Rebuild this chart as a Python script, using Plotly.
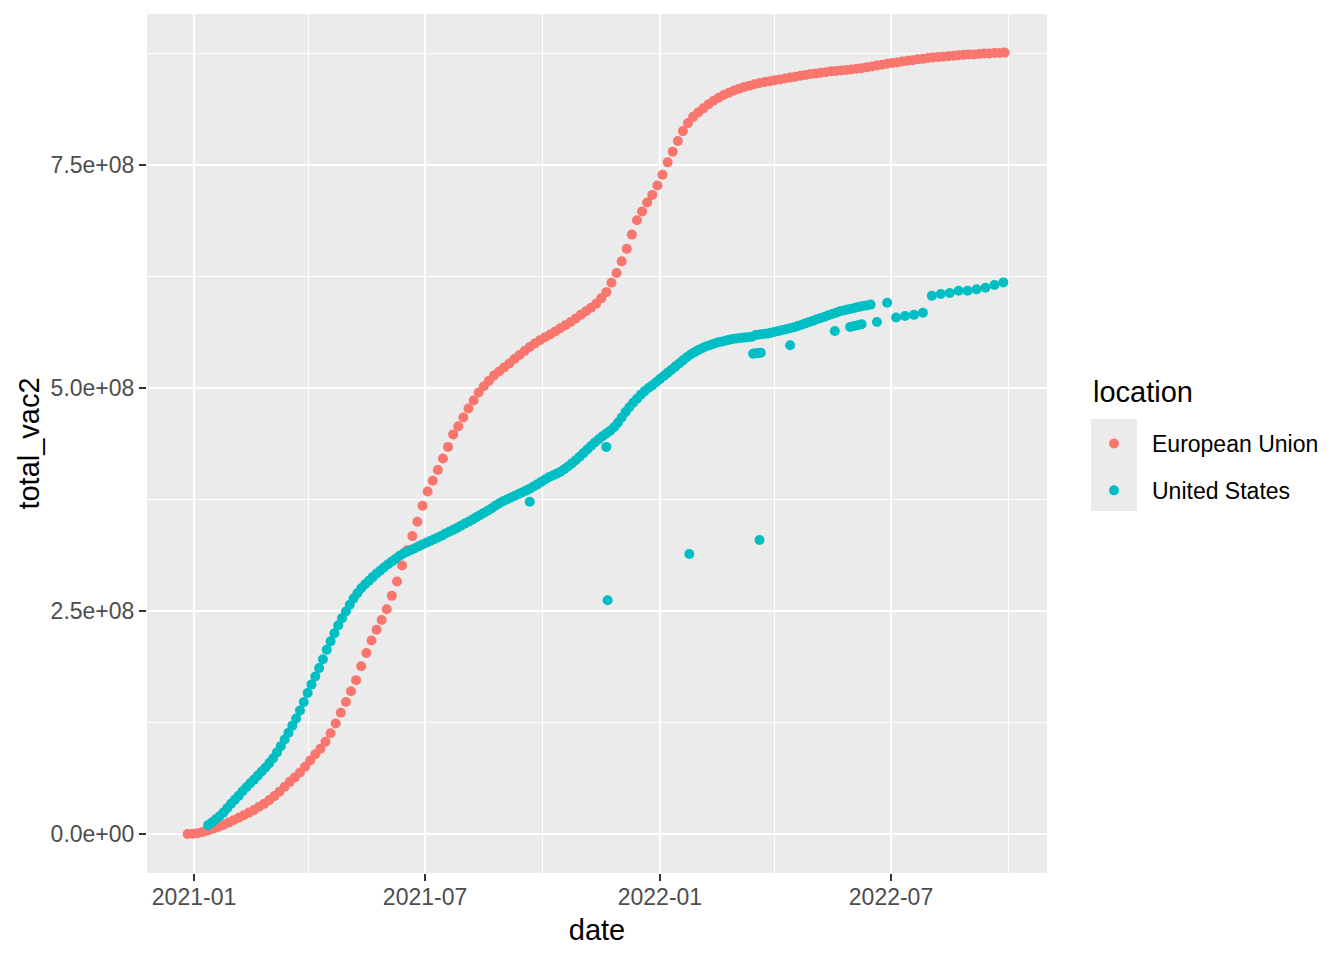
import pandas as pd
import plotly.graph_objects as go

# ---------------- data (values in millions) ----------------
eu_start = "2020-12-27"          # EU series, one reading every 4 days
eu_values_m = [
    0.1, 0.3, 1.0, 2.4, 4.0, 6.0, 8.0, 10.2, 12.8, 15.5,
    18.2, 21.0, 24.0, 27.0, 30.5, 34.0, 38.0, 42.5, 47.5, 53.0,
    58.5, 63.5, 69.0, 75.5, 82.5, 89.5, 95.5, 103.5, 113, 124,
    136, 148, 160, 172.5, 188, 203, 217, 229, 240, 252,
    267, 283, 301, 318, 334, 350, 368, 384, 396, 408,
    421, 434, 448, 457, 467, 477, 486, 495, 502, 508,
    514, 518.5, 523, 527.5, 532.5, 537, 541.5, 546, 550, 553.5,
    557, 560, 563.5, 567, 570.5, 574, 578, 582, 586, 590,
    594.5, 600.5, 607.5, 618, 629, 642, 656, 672, 688, 698,
    708, 716.5, 727, 739, 753, 765, 777, 788, 797, 804,
    809, 813.5, 818, 822, 825.5, 828.5, 831, 833.5, 835.5, 837.5,
    839, 840.5, 842, 843, 844, 845, 846, 847, 848, 849,
    850, 851, 852, 852.5, 853.5, 854, 855, 855.5, 856, 856.5,
    857, 858, 858.5, 859.5, 860.5, 861.5, 862.5, 863.5, 864.5, 865,
    866, 867, 867.5, 868.5, 869, 870, 870.5, 871, 871.5, 872,
    872.5, 873, 873.5, 874, 874, 874.5, 875, 875, 875.5, 875.5,
    876,
]

us_start = "2021-01-12"          # US main series, one reading every 3 days
us_values_m = [
    10, 13, 16.5, 20, 24, 29, 34, 38.5, 43, 48,
    52.5, 57, 61, 65.5, 70, 74.5, 79.5, 85, 91.5, 98.5,
    106, 113.5, 121.5, 129.5, 138.5, 148, 158, 167.5, 176.5, 186,
    196, 206.5, 216, 225, 234, 242, 249.5, 257, 264, 270,
    275.5, 280, 284, 288, 292, 295.5, 299, 302.5, 305.5, 308.5,
    312, 314.5, 316.5, 318.5, 320.5, 322.5, 324.5, 326.5, 328.5, 330.5,
    332.5, 334.5, 337, 339, 341, 343, 345.5, 348, 350, 352.5,
    355, 357.5, 360, 362.5, 365, 368, 370.5, 373, 375, 377,
    379, 381, 383, 385, 387, 389.5, 392, 395, 397.5, 400,
    402, 404, 406, 409, 412, 415.5, 419, 423, 427, 431,
    435, 439, 442.5, 446, 449, 452, 456, 461, 467, 473,
    478.5, 483.5, 488, 492.5, 496.5, 500, 503, 506.5, 510, 513.5,
    517, 520.5, 524, 527.5, 531, 534.5, 537.5, 540, 542.5, 544.5,
    546.5, 548, 549.5, 551, 552, 553, 554, 555, 555.5, 556,
    556.5, 557, 557.5, 559.5, 560, 560.5, 561, 562, 563, 564,
    565, 566, 567, 568, 569.5, 571, 572.5, 574, 575.5, 577,
    578.5, 580, 581.5, 583, 584.5, 586, 587, 588, 589, 590,
    591, 592, 592.5, 593.5,
]

# US irregular readings (outliers and sparse late-2022 reports)
us_extra_dates = [
    "2021-09-21", "2021-11-20", "2021-11-21", "2022-01-24",
    "2022-03-15", "2022-03-17", "2022-03-19", "2022-03-20", "2022-03-21",
    "2022-04-13", "2022-05-18", "2022-05-30", "2022-06-02", "2022-06-05",
    "2022-06-08", "2022-06-20", "2022-06-28", "2022-07-05", "2022-07-12",
    "2022-07-19", "2022-07-26", "2022-08-02", "2022-08-09", "2022-08-16",
    "2022-08-23", "2022-08-30", "2022-09-06", "2022-09-13", "2022-09-20",
    "2022-09-27",
]
us_extra_values_m = [
    372.5, 434, 262, 314,
    538.5, 539, 539, 329.6, 539.5,
    548, 564, 568.5, 569.5, 570.5,
    571.5, 574, 595.6, 579, 580.7,
    582, 584.4, 603.5, 605.4, 606.5,
    609, 609, 610.6, 612.4, 615.4,
    618.4,
]

locations = ["European Union", "United States"]
colors = ["#F8766D", "#00BFC4"]

y_tickvals = [0, 2.5e8, 5.0e8, 7.5e8]
y_ticktext = ["0.0e+00", "2.5e+08", "5.0e+08", "7.5e+08"]

# ---------------- assemble ----------------
eu_dates = pd.date_range(eu_start, periods=len(eu_values_m), freq="4D")
us_dates = pd.date_range(us_start, periods=len(us_values_m), freq="3D")

eu_x = list(eu_dates)
eu_y = [v * 1e6 for v in eu_values_m]
us_x = list(us_dates) + list(pd.to_datetime(us_extra_dates))
us_y = [v * 1e6 for v in us_values_m] + [v * 1e6 for v in us_extra_values_m]

FONT = "Liberation Sans, Arial, sans-serif"

fig = go.Figure()
for name, xs, ys, col in [(locations[0], eu_x, eu_y, colors[0]),
                          (locations[1], us_x, us_y, colors[1])]:
    fig.add_trace(go.Scatter(
        x=xs, y=ys, mode="markers", name=name, legendgroup=name,
        marker=dict(color=col, size=10, line=dict(width=0)),
    ))

W, H = 1344, 960
L, R, T, B = 147, 297, 14, 87
pw, ph = W - L - R, H - T - B

def px2paper(x, y):
    return (x - L) / pw, (H - B - y) / ph

# grey key background of the legend
kx0, ky0 = px2paper(1091, 511)
kx1, ky1 = px2paper(1137, 419)
fig.add_shape(type="rect", xref="paper", yref="paper",
              x0=kx0, y0=ky0, x1=kx1, y1=ky1,
              fillcolor="#EBEBEB", line=dict(width=0), layer="below")

# legend title
tx, ty = px2paper(1091, 392)
fig.add_annotation(x=tx, y=ty, xref="paper", yref="paper",
                   text="location", showarrow=False,
                   xanchor="left", yanchor="middle",
                   font=dict(size=29, family="Liberation Sans, Arial, sans-serif", color="#000000"))

lx, ly = px2paper(1076, 422)

fig.update_layout(
    width=W, height=H,
    margin=dict(l=L, r=R, t=T, b=B, pad=0),
    paper_bgcolor="white", plot_bgcolor="#EBEBEB",
    font=dict(family=FONT, color="#000000"),
    showlegend=True,
    legend=dict(
        x=lx, y=ly, xanchor="left", yanchor="top",
        bgcolor="rgba(0,0,0,0)",
        font=dict(size=23, family=FONT, color="#000000"),
        itemwidth=66, tracegroupgap=14, traceorder="grouped",
    ),
    xaxis=dict(
        type="date",
        range=["2020-11-25 04:00", "2022-10-31 05:00"],
        tick0="2021-01-01", dtick="M6", tickformat="%Y-%m",
        showgrid=True, gridcolor="white", gridwidth=2,
        minor=dict(dtick="M3", tick0="2021-01-01", showgrid=True,
                   gridcolor="white", gridwidth=1, ticks=""),
        ticks="outside", ticklen=7, tickwidth=2, tickcolor="#333333",
        ticklabelstandoff=-4,
        tickfont=dict(size=23, family=FONT, color="#4D4D4D"),
        title=dict(text="date", font=dict(size=29, family=FONT, color="#000000"), standoff=11),
        zeroline=False, showline=False,
    ),
    yaxis=dict(
        range=[-43.7e6, 919.3e6],
        tickmode="array", tickvals=y_tickvals, ticktext=y_ticktext,
        showgrid=True, gridcolor="white", gridwidth=2,
        minor=dict(dtick=1.25e8, tick0=0, showgrid=True,
                   gridcolor="white", gridwidth=1, ticks=""),
        ticks="outside", ticklen=7, tickwidth=2, tickcolor="#333333",
        tickfont=dict(size=23, family=FONT, color="#4D4D4D"),
        title=dict(text="total_vac2", font=dict(size=29, family=FONT, color="#000000"), standoff=2),
        zeroline=False, showline=False,
    ),
)

fig.write_html("out.html", config={"displayModeBar": False},
               post_script="document.body.style.margin='0';")
